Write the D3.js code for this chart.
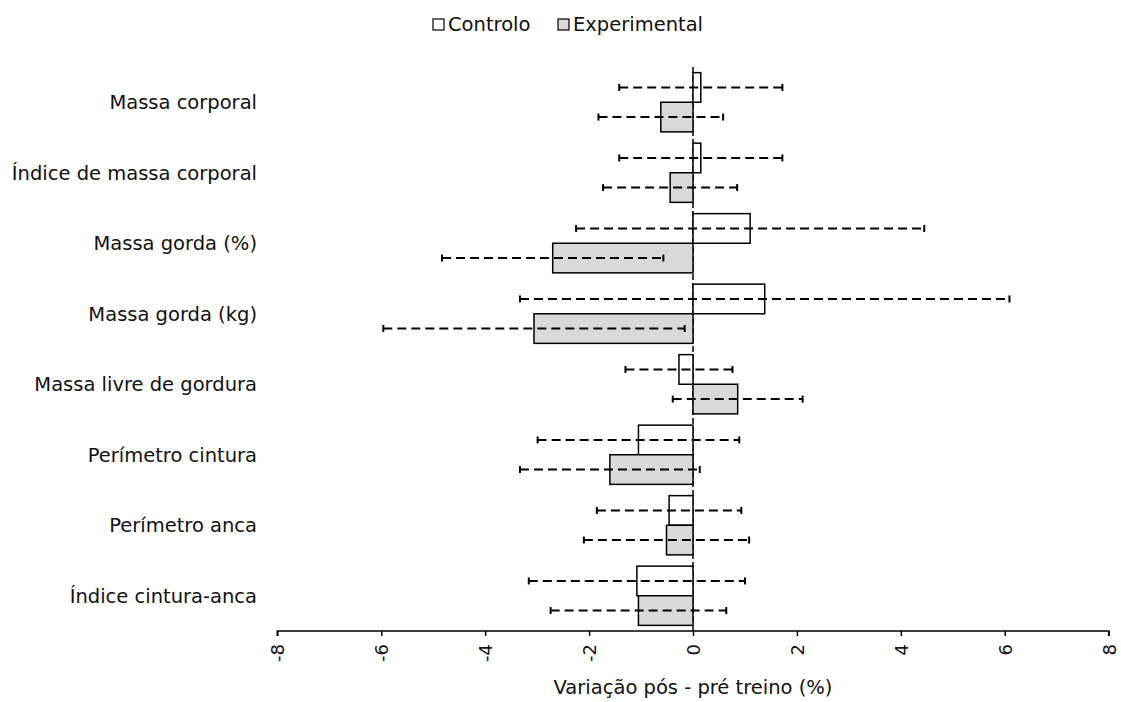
<!DOCTYPE html>
<html>
<head>
<meta charset="utf-8">
<script src="https://cdn.jsdelivr.net/npm/d3@7"></script>
<style>
  body { margin: 0; background: #fff; }
  svg { font-family: "DejaVu Sans", sans-serif; }
</style>
</head>
<body>
<div id="chart"></div>
<script>
var svgWidth = 1121;
var svgHeight = 702;

// data
var categories = [
  "Massa corporal",
  "Índice de massa corporal",
  "Massa gorda (%)",
  "Massa gorda (kg)",
  "Massa livre de gordura",
  "Perímetro cintura",
  "Perímetro anca",
  "Índice cintura-anca"
];
var seriesNames = ["Controlo", "Experimental"];
var controloMean = [0.15, 0.15, 1.10, 1.38, -0.27, -1.05, -0.46, -1.08];
var controloSD = [1.57, 1.57, 3.35, 4.71, 1.03, 1.94, 1.39, 2.08];
var experimentalMean = [-0.62, -0.44, -2.70, -3.06, 0.86, -1.60, -0.51, -1.05];
var experimentalSD = [1.20, 1.29, 2.13, 2.90, 1.25, 1.73, 1.59, 1.69];
var xTicks = [-8, -6, -4, -2, 0, 2, 4, 6, 8];
var seriesFill = ["#ffffff", "#d9d9d9"];

var svg = d3.select("#chart")
  .append("svg")
  .attr("width", svgWidth)
  .attr("height", svgHeight);

var xScale = d3.scaleLinear()
  .domain([-8, 8])
  .range([277.3, 1108.7]);

var yScale = d3.scaleBand()
  .domain(categories)
  .range([67, 631])
  .paddingInner(0.16)
  .paddingOuter(0.08);

var subScale = d3.scaleBand()
  .domain(seriesNames)
  .range([0, yScale.bandwidth()]);

// flatten into rows for drawing
var rows = [];
categories.forEach(function (c, i) {
  rows.push({ cat: c, series: "Controlo", mean: controloMean[i], sd: controloSD[i], fill: seriesFill[0] });
  rows.push({ cat: c, series: "Experimental", mean: experimentalMean[i], sd: experimentalSD[i], fill: seriesFill[1] });
});

// zero line (dashed)
svg.append("line")
  .attr("x1", xScale(0))
  .attr("x2", xScale(0))
  .attr("y1", 67)
  .attr("y2", 631)
  .attr("stroke", "#000")
  .attr("stroke-width", 1.5)
  .attr("stroke-dasharray", "6,3");

// bars
svg.selectAll("rect.bar")
  .data(rows)
  .enter()
  .append("rect")
  .attr("class", "bar")
  .attr("x", d => xScale(Math.min(0, d.mean)))
  .attr("width", d => Math.abs(xScale(d.mean) - xScale(0)))
  .attr("y", d => yScale(d.cat) + subScale(d.series))
  .attr("height", subScale.bandwidth())
  .attr("fill", d => d.fill)
  .attr("stroke", "#000")
  .attr("stroke-width", 1.5);

// error bars
var errGroup = svg.selectAll("g.err")
  .data(rows)
  .enter()
  .append("g")
  .attr("class", "err")
  .attr("transform", d => `translate(0, ${yScale(d.cat) + subScale(d.series) + subScale.bandwidth() / 2})`);

errGroup.append("line")
  .attr("x1", d => xScale(d.mean - d.sd))
  .attr("x2", d => xScale(d.mean + d.sd))
  .attr("stroke", "#000")
  .attr("stroke-width", 2)
  .attr("stroke-dasharray", "9,5");

errGroup.append("line")
  .attr("x1", d => xScale(d.mean - d.sd))
  .attr("x2", d => xScale(d.mean - d.sd))
  .attr("y1", -3.5)
  .attr("y2", 3.5)
  .attr("stroke", "#000")
  .attr("stroke-width", 2);

errGroup.append("line")
  .attr("x1", d => xScale(d.mean + d.sd))
  .attr("x2", d => xScale(d.mean + d.sd))
  .attr("y1", -3.5)
  .attr("y2", 3.5)
  .attr("stroke", "#000")
  .attr("stroke-width", 2);

// category labels
svg.selectAll("text.cat")
  .data(categories)
  .enter()
  .append("text")
  .attr("class", "cat")
  .attr("x", 257)
  .attr("y", d => yScale(d) + yScale.bandwidth() / 2)
  .attr("dy", "0.35em")
  .attr("text-anchor", "end")
  .attr("font-size", "19.5px")
  .attr("fill", "#111")
  .text(d => d);

// x axis
var xAxis = d3.axisBottom(xScale)
  .tickValues(xTicks)
  .tickSize(5)
  .tickPadding(4)
  .tickFormat(d3.format("d"));

var axisG = svg.append("g")
  .attr("transform", "translate(0, 631)")
  .call(xAxis);

axisG.select(".domain")
  .attr("stroke", "#000")
  .attr("stroke-width", 1.5)
  .attr("d", `M${xScale(-8)},5V0H${xScale(8)}V5`);
axisG.selectAll(".tick line").attr("stroke", "#000").attr("stroke-width", 1.5);
axisG.selectAll(".tick text")
  .attr("font-size", "18px")
  .attr("font-family", "DejaVu Sans, sans-serif")
  .attr("fill", "#111")
  .attr("text-anchor", "end")
  .attr("transform", "rotate(-90)")
  .attr("x", -13)
  .attr("y", 0)
  .attr("dy", "0.35em")
  .text(d => d === 0 ? "0" : d3.format("d")(d).replace("−", "-"));

// axis title
svg.append("text")
  .attr("x", xScale(0))
  .attr("y", 694)
  .attr("text-anchor", "middle")
  .attr("font-size", "19.5px")
  .attr("fill", "#111")
  .text("Variação pós - pré treino (%)");

// legend
var legendItems = [
  { name: "Controlo", fill: seriesFill[0], x: 433 },
  { name: "Experimental", fill: seriesFill[1], x: 558 }
];
var legend = svg.selectAll("g.legend")
  .data(legendItems)
  .enter()
  .append("g")
  .attr("class", "legend")
  .attr("transform", d => `translate(${d.x}, 19)`);

legend.append("rect")
  .attr("width", 11)
  .attr("height", 11)
  .attr("fill", d => d.fill)
  .attr("stroke", "#000")
  .attr("stroke-width", 1.2);

legend.append("text")
  .attr("x", 15)
  .attr("y", 5.5)
  .attr("dy", "0.35em")
  .attr("font-size", "19.5px")
  .attr("fill", "#111")
  .text(d => d.name);
</script>
</body>
</html>
